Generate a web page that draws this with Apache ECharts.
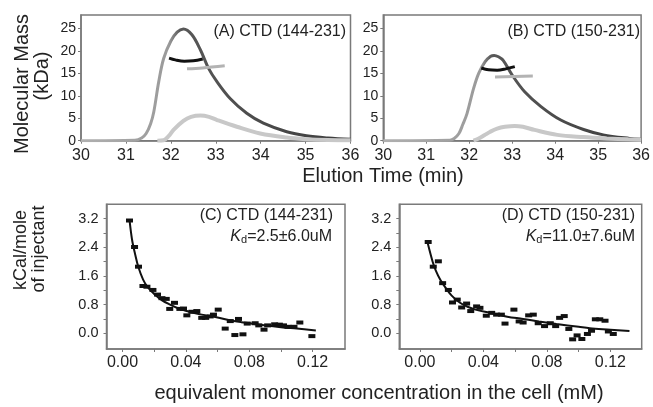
<!DOCTYPE html>
<html><head><meta charset="utf-8">
<script src="https://cdn.jsdelivr.net/npm/echarts@6/dist/echarts.min.js"></script>
<style>html,body{margin:0;padding:0;background:#fff}#c{width:653px;height:407px}</style>
</head><body><div id="c"></div>
<script>
// ---- tick labels ----
const topXTicks = [30, 31, 32, 33, 34, 35, 36];
const topYTicks = [0, 5, 10, 15, 20, 25];
const botXTicks = [0.00, 0.04, 0.08, 0.12];
const botXTickMarks = [0.00, 0.02, 0.04, 0.06, 0.08, 0.10, 0.12];
const botYTicks = [0.0, 0.8, 1.6, 2.4, 3.2];
const botYTickMarks = [0.0, 0.4, 0.8, 1.2, 1.6, 2.0, 2.4, 2.8, 3.2];

// ---- panel A: CTD (144-231) ----
const aMain = [[30,0],[31.2,0.1],[31.35,0.6],[31.45,1.6],[31.55,3.8],[31.62,6.4],[31.73,13.1],[31.84,18.3],[32.0,22.2],[32.14,24.2],[32.28,24.9],[32.47,23.6],[32.66,20.2],[32.84,16.1],[33.03,13.1],[33.32,9.4],[33.69,6.1],[34.06,3.9],[34.58,2.0],[35.02,1.1],[35.5,0.6],[36,0.3]];
const aLight = [[31.7,0],[31.84,0.1],[31.95,1.0],[32.06,2.4],[32.28,4.4],[32.45,5.3],[32.66,5.6],[32.85,5.3],[33.03,4.6],[33.47,3.1],[33.99,1.6],[34.58,0.7],[35.0,0.35],[35.5,0.15],[36,0.1]];
const aBlack = [[31.96,18.4],[32.1,18.0],[32.3,17.7],[32.5,17.8],[32.71,18.2]];
const aGray = [[32.36,16.0],[32.7,16.2],[33.2,16.7]];

// ---- panel B: CTD (150-231) ----
const bMain = [[30,0],[31.55,0.1],[31.65,0.5],[31.76,1.6],[31.85,3.6],[31.95,6.1],[32.1,11.6],[32.22,15.0],[32.37,17.6],[32.5,18.8],[32.58,19.0],[32.68,18.7],[32.79,17.9],[33.0,14.6],[33.29,10.9],[33.67,7.6],[34.13,4.6],[34.66,2.5],[35.12,1.3],[35.73,0.5],[36,0.3]];
const bLight = [[32.1,0],[32.22,0.5],[32.35,1.2],[32.49,2.0],[32.65,2.7],[32.83,3.1],[33.06,3.3],[33.25,3.1],[33.52,2.4],[34.05,1.3],[34.66,0.8],[35.2,0.5],[35.7,0.3],[36,0.2]];
const bBlack = [[32.28,16.2],[32.45,15.8],[32.65,15.7],[32.85,16.0],[33.06,16.5]];
const bGray = [[32.6,14.2],[33.48,14.4]];

// ---- panel C: ITC CTD (144-231) ----
const cPoints = [[0.0044,3.15],[0.0076,2.41],[0.0101,1.86],[0.0129,1.32],[0.0154,1.30],[0.0192,1.21],[0.0221,1.08],[0.0249,0.98],[0.0276,0.96],[0.0298,0.68],[0.0328,0.85],[0.0362,0.68],[0.0385,0.69],[0.0406,0.50],[0.0438,0.60],[0.0469,0.62],[0.0500,0.43],[0.0525,0.43],[0.0553,0.47],[0.0574,0.52],[0.0604,0.66],[0.0648,0.13],[0.0680,0.34],[0.0709,-0.05],[0.0732,0.40],[0.0760,-0.03],[0.0787,0.27],[0.0837,0.28],[0.0860,0.22],[0.0893,0.10],[0.0916,0.22],[0.0960,0.25],[0.0990,0.24],[0.1016,0.22],[0.1045,0.18],[0.1082,0.18],[0.1119,0.30],[0.1195,-0.08]];
const cFit = [[0.0044,3.18],[0.006,2.62],[0.008,2.2],[0.010,1.85],[0.013,1.5],[0.016,1.28],[0.020,1.1],[0.025,0.92],[0.030,0.8],[0.035,0.7],[0.040,0.63],[0.046,0.56],[0.050,0.52],[0.060,0.44],[0.067,0.37],[0.075,0.31],[0.080,0.28],[0.088,0.23],[0.100,0.17],[0.110,0.13],[0.122,0.08]];

// ---- panel D: ITC CTD (150-231) ----
const dPoints = [[0.0052,2.55],[0.0084,1.86],[0.0116,2.01],[0.0143,1.40],[0.0179,1.21],[0.0205,0.86],[0.0235,0.94],[0.0263,0.72],[0.0294,0.83],[0.0320,0.62],[0.0357,0.75],[0.0378,0.71],[0.0418,0.49],[0.0452,0.57],[0.0483,0.52],[0.0513,0.52],[0.0536,0.27],[0.0592,0.66],[0.0625,0.33],[0.0650,0.30],[0.0685,0.50],[0.0714,0.52],[0.0745,0.28],[0.0785,0.20],[0.0821,0.28],[0.0855,0.20],[0.0880,0.43],[0.0909,0.48],[0.0938,0.12],[0.0962,-0.17],[0.0990,-0.06],[0.1020,-0.16],[0.1055,-0.02],[0.1081,0.07],[0.1105,0.39],[0.1133,0.39],[0.1166,0.35],[0.1187,0.05],[0.1218,-0.02]];
const dFit = [[0.005,2.5],[0.008,2.0],[0.010,1.75],[0.013,1.48],[0.016,1.28],[0.020,1.05],[0.025,0.86],[0.030,0.74],[0.035,0.66],[0.044,0.57],[0.055,0.46],[0.065,0.4],[0.075,0.33],[0.086,0.26],[0.100,0.18],[0.107,0.14],[0.120,0.10],[0.132,0.06]];

const FONT = "'Liberation Sans', Arial, Helvetica, sans-serif";
const AX = '#7a7a7a', TXT = '#222';

function xTop(gi){
  return {type:'value', gridIndex:gi, min:30, max:36,
    axisLabel:{customValues:topXTicks, fontSize:16, fontFamily:FONT, color:TXT, margin:7},
    axisTick:{customValues:topXTicks, length:3, lineStyle:{color:AX}},
    axisLine:{onZero:false, lineStyle:{color:AX, width:1.5}}, splitLine:{show:false}};
}
function yTop(gi){
  return {type:'value', gridIndex:gi, min:0, max:28,
    axisLabel:{customValues:topYTicks, fontSize:14, fontFamily:FONT, color:TXT, margin:5},
    axisTick:{customValues:topYTicks, length:3, lineStyle:{color:AX}},
    axisLine:{show:true, onZero:false, lineStyle:{color:AX, width:1.5}}, splitLine:{show:false}};
}
function xBot(gi, mn, mx){
  return {type:'value', gridIndex:gi, min:mn, max:mx,
    axisLabel:{customValues:botXTicks, formatter:v=>v.toFixed(2), fontSize:16, fontFamily:FONT, color:TXT, margin:6},
    axisTick:{customValues:botXTickMarks, length:3, lineStyle:{color:AX}},
    axisLine:{onZero:false, lineStyle:{color:AX, width:1.5}}, splitLine:{show:false}};
}
function yBot(gi){
  return {type:'value', gridIndex:gi, min:-0.44, max:3.603,
    axisLabel:{customValues:botYTicks, formatter:v=>v.toFixed(1), fontSize:14.5, fontFamily:FONT, color:TXT, margin:8},
    axisTick:{customValues:botYTickMarks, length:3, lineStyle:{color:AX}},
    axisLine:{show:true, onZero:false, lineStyle:{color:AX, width:1.5}}, splitLine:{show:false}};
}
function grad(a,b){
  return new echarts.graphic.LinearGradient(0,0,1,0,[
    {offset:0,color:'#b0b0b0'},{offset:a,color:'#9a9a9a'},{offset:b,color:'#585858'},{offset:1,color:'#3c3c3c'}]);
}
function line(xi, data, color, width, z){
  return {type:'line', xAxisIndex:xi, yAxisIndex:xi, data:data, showSymbol:false, smooth:0.35,
    lineStyle:{color:color, width:width}, z:z||2, silent:true};
}
function scat(xi, data){
  return {type:'scatter', xAxisIndex:xi, yAxisIndex:xi, data:data, symbol:'rect', symbolSize:[7,4],
    itemStyle:{color:'#111', opacity:1}, z:3, silent:true};
}
function txt(x, y, text, size, opts){
  return Object.assign({type:'text', x:x, y:y, silent:true,
    style:{text:text, fontSize:size, fontFamily:FONT, fill:TXT, align:'center', verticalAlign:'middle'}}, opts||{});
}
function rtxt(x, y, text, size){
  return {type:'text', x:x, y:y, silent:true,
    style:{text:text, fontSize:size, fontFamily:FONT, fill:TXT, align:'right', verticalAlign:'middle'}};
}
function kd(x, y, val){
  return {type:'text', x:x, y:y, silent:true,
    style:{text:'{k|K}{d|d}{n|=' + val + '}', align:'right', verticalAlign:'middle', fill:TXT,
      rich:{k:{fontSize:16, fontStyle:'italic', fontFamily:FONT, fill:TXT, lineHeight:20, verticalAlign:'middle'},
            d:{fontSize:11, fontFamily:FONT, fill:TXT, lineHeight:20, verticalAlign:'bottom', padding:[0,0,2,0]},
            n:{fontSize:16, fontFamily:FONT, fill:TXT, lineHeight:20, verticalAlign:'middle'}}}};
}

const chart = echarts.init(document.getElementById('c'), null, {renderer:'canvas'});
chart.setOption({
  animation:false,
  backgroundColor:'#fff',
  grid:[
    {left:81, top:15, width:269.5, height:125.7, show:true, borderColor:AX, borderWidth:1.5},
    {left:383.3, top:15, width:261.7, height:125.7, show:true, borderColor:AX, borderWidth:1.5},
    {left:106.5, top:204.3, width:238.5, height:144.7, show:true, borderColor:AX, borderWidth:1.5},
    {left:399.3, top:204.3, width:242.4, height:144.7, show:true, borderColor:AX, borderWidth:1.5}
  ],
  xAxis:[xTop(0), xTop(1), xBot(2,-0.0101,0.1404), xBot(3,-0.013,0.1397)],
  yAxis:[yTop(0), yTop(1), yBot(2), yBot(3)],
  series:[
    line(0, aMain, grad(0.33,0.37), 3),
    line(0, aLight, '#c8c8c8', 4),
    line(0, aBlack, '#111', 3, 4),
    line(0, aGray, '#b3b3b3', 3, 5),
    line(1, bMain, grad(0.38,0.42), 3),
    line(1, bLight, '#c8c8c8', 4),
    line(1, bBlack, '#111', 3, 4),
    line(1, bGray, '#b3b3b3', 3, 5),
    scat(2, cPoints),
    line(2, cFit, '#111', 2, 4),
    scat(3, dPoints),
    line(3, dFit, '#111', 2, 4)
  ],
  graphic:[
    txt(22, 84, 'Molecular Mass', 20, {rotation:Math.PI/2}),
    txt(42, 76, '(kDa)', 20, {rotation:Math.PI/2}),
    txt(383, 176, 'Elution Time (min)', 20),
    txt(21, 250, 'kCal/mole', 18, {rotation:Math.PI/2}),
    txt(39, 249, 'of injectant', 18, {rotation:Math.PI/2}),
    txt(379, 393, 'equivalent monomer concentration in the cell (mM)', 20),
    rtxt(346, 32, '(A) CTD (144-231)', 16),
    rtxt(640, 32, '(B) CTD (150-231)', 16),
    rtxt(333, 216, '(C) CTD (144-231)', 16),
    rtxt(635, 216, '(D) CTD (150-231)', 16),
    kd(332, 237, '2.5±6.0uM'),
    kd(635, 237, '11.0±7.6uM')
  ]
});
</script></body></html>
